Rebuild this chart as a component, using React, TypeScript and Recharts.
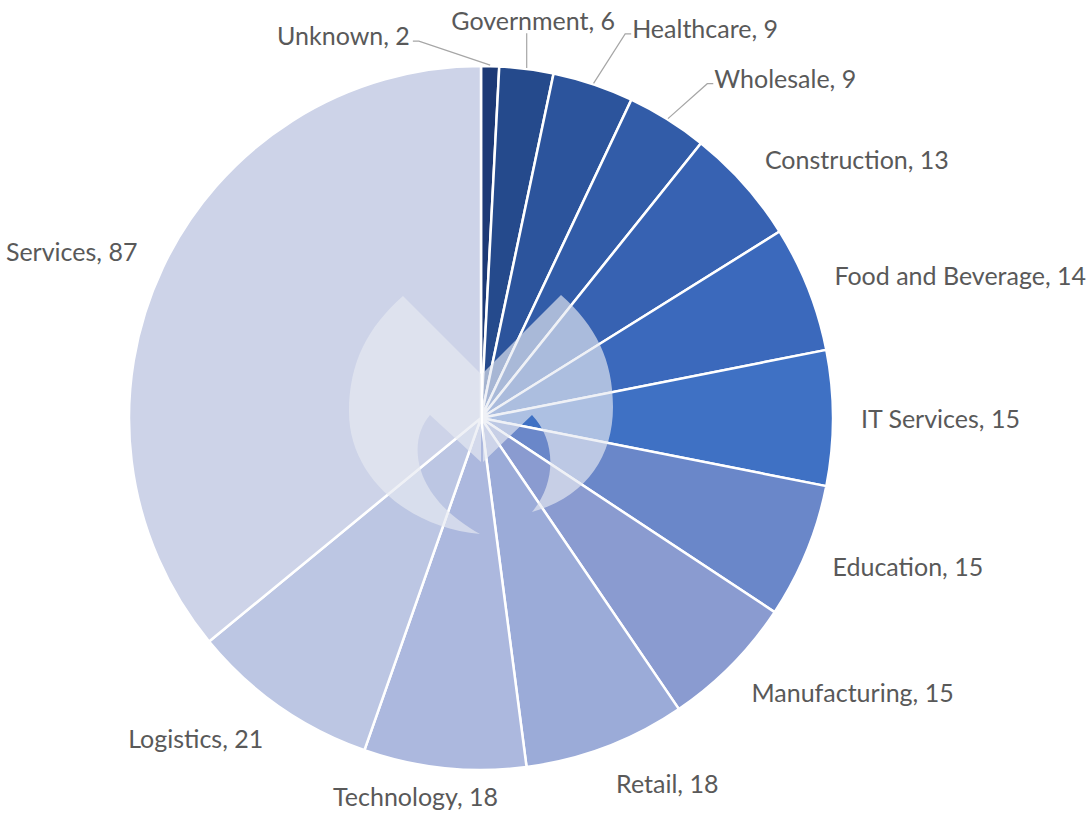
import React from 'react';
import { PieChart, Pie, Cell } from 'recharts';

const CATEGORIES = [
  'Unknown', 'Government', 'Healthcare', 'Wholesale', 'Construction',
  'Food and Beverage', 'IT Services', 'Education', 'Manufacturing',
  'Retail', 'Technology', 'Logistics', 'Services',
];
const VALUES = [2, 6, 9, 9, 13, 14, 15, 15, 15, 18, 18, 21, 87];
const COLORS = [
  '#1d3a76', '#254a8c', '#2c549c', '#325ca8', '#3762b2', '#3b69bc',
  '#3f71c4', '#6a87c9', '#8a9bd0', '#9babd8', '#acb8de', '#bcc6e3', '#cdd3e8',
];

const data = CATEGORIES.map((name, i) => ({ name, value: VALUES[i] }));

const W = 1091;
const H = 820;
const RAD = Math.PI / 180;
const FONT = 'Lato, "Open Sans", sans-serif';
const FONT_SIZE = 25;
const TEXT_COLOR = '#595959';
const LINE_COLOR = '#a6a6a6';

// Label layout tweaks (relative nudges from the computed polar position)
type Tweak = { dx: number; dy: number; anchor?: 'start' | 'middle' | 'end'; leader?: 'side' | 'vertical' };
const LABEL_TWEAKS: Record<number, Tweak> = {
  0: { dx: -81, dy: -3, anchor: 'end', leader: 'side' },
  1: { dx: 3, dy: -21, anchor: 'middle', leader: 'vertical' },
  2: { dx: 30, dy: -30, anchor: 'start', leader: 'side' },
  3: { dx: 32, dy: -18, anchor: 'start', leader: 'side' },
  10: { dx: -26, dy: 0 },
};

const renderLabel = (props: any) => {
  const { cx, cy, midAngle, outerRadius, index, value } = props;
  const name = CATEGORIES[index];
  const cos = Math.cos(midAngle * RAD);
  const sin = Math.sin(midAngle * RAD);
  const r = outerRadius + 28;
  const px = cx + r * cos;
  const py = cy - r * sin;
  let anchor: 'start' | 'middle' | 'end' = cos > 0.2 ? 'start' : cos < -0.2 ? 'end' : 'middle';
  let x = px;
  let y = py - sin * 10;
  const tw = LABEL_TWEAKS[index];
  let leader: React.ReactNode = null;
  if (tw) {
    x = px + tw.dx;
    y = py + tw.dy;
    if (tw.anchor) anchor = tw.anchor;
    if (tw.leader) {
      const ex = cx + (outerRadius + 1) * cos;
      const ey = cy - (outerRadius + 1) * sin;
      let pts = '';
      if (tw.leader === 'vertical') {
        pts = `${ex},${ey} ${ex},${y + 13}`;
      } else if (anchor === 'start') {
        const ly = y + 6;
        pts = `${ex},${ey} ${x - 7},${ly} ${x - 1},${ly}`;
      } else {
        const ly = y + 6;
        pts = `${ex},${ey} ${x + 9},${ly} ${x + 3},${ly}`;
      }
      leader = <polyline points={pts} fill="none" stroke={LINE_COLOR} strokeWidth={1.2} />;
    }
  }
  return (
    <g key={`lbl-${index}`}>
      {leader}
      <text
        x={x}
        y={y}
        textAnchor={anchor}
        dominantBaseline="central"
        fill={TEXT_COLOR}
        fontFamily={FONT}
        fontSize={FONT_SIZE}
      >
        {`${name}, ${value}`}
      </text>
    </g>
  );
};

const Watermark = () => (
  <svg
    width={W}
    height={H}
    style={{ position: 'absolute', left: 0, top: 0, pointerEvents: 'none' }}
  >
    <g fill="#e6e9f2" fillOpacity={0.66}>
      <path d="M403,296 L481,374 L481,462 L430,415 C408,440 410,495 480,534 C410,528 349,478 349,412 C349,362 368,327 403,296 Z" />
      <path d="M561,295 L483,373 L483,462 L532,415 C556,440 557,482 532,512 C585,497 613,458 613,407 C613,360 596,326 561,295 Z" />
    </g>
  </svg>
);

export default function App() {
  return (
    <div style={{ position: 'absolute', left: 0, top: 0, width: W, height: H, background: '#ffffff' }}>
      <PieChart width={W} height={H} margin={{ top: 0, right: 0, bottom: 0, left: 0 }}>
        <Pie
          data={data}
          dataKey="value"
          nameKey="name"
          cx={481}
          cy={418}
          outerRadius={352}
          startAngle={90}
          endAngle={-270}
          stroke="#ffffff"
          strokeWidth={2.5}
          label={renderLabel}
          labelLine={false}
          isAnimationActive={false}
        >
          {data.map((d, i) => (
            <Cell key={d.name} fill={COLORS[i]} />
          ))}
        </Pie>
      </PieChart>
      <Watermark />
    </div>
  );
}
